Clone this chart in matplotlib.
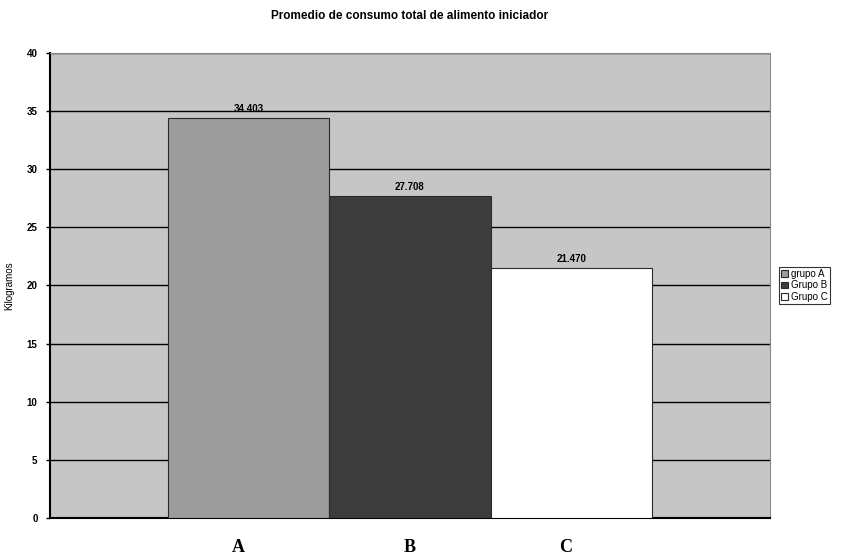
import numpy as np
import matplotlib
matplotlib.use("Agg")
import matplotlib.pyplot as plt

# data
groups = ["grupo A", "Grupo B", "Grupo C"]
letters = ["A", "B", "C"]
values = [34.403, 27.708, 21.470]
labels = ["34.403", "27.708", "21.470"]
colors = ["#9c9c9c", "#3c3c3c", "#ffffff"]
yticks = [0, 5, 10, 15, 20, 25, 30, 35, 40]

plt.rcParams['font.family'] = ['Liberation Sans', 'DejaVu Sans']

fig = plt.figure(figsize=(8.41, 5.59), dpi=100)
ax = fig.add_axes([0.0595, 0.0733, 0.856, 0.832])
ax.set_facecolor("#c6c6c6")

w = 0.224
offsets = [-w, 0, w]
for off, v, c, g in zip(offsets, values, colors, groups):
    ax.bar(off, v, width=w, color=c, edgecolor="#2a2a2a", linewidth=0.8,
           label=g, zorder=3)

for off, v, lab in zip(offsets, values, labels):
    ax.text(off, v + 0.35, lab, ha="center", va="bottom", fontsize=7,
            fontweight="bold", zorder=4)

ax.set_xlim(-0.5, 0.5)
ax.set_ylim(0, 40)
ax.set_yticks(yticks)
ax.set_yticklabels([str(t) for t in yticks], fontsize=7, fontweight="bold")
ax.set_xticks([])
ax.yaxis.grid(True, color="black", linewidth=1.0, zorder=1)
ax.set_axisbelow(True)
ax.tick_params(axis="y", length=3, width=1, pad=6)
for s in ["left", "bottom"]:
    ax.spines[s].set_linewidth(1.5)
for s in ["top", "right"]:
    ax.spines[s].set_color("#8a8a8a")
    ax.spines[s].set_linewidth(0.8)

ax.set_ylabel("Kilogramos", fontsize=7, labelpad=9)

fig.text(0.4875, 0.972, "Promedio de consumo total de alimento iniciador",
         ha="center", va="center", fontsize=8.5, fontweight="bold")

leg = ax.legend(loc="center left", bbox_to_anchor=(1.012, 0.5), fontsize=7,
                frameon=True, fancybox=False, edgecolor="black",
                handlelength=0.7, handleheight=0.7, handletextpad=0.3,
                borderpad=0.25, labelspacing=0.15, borderaxespad=0.0)
leg.get_frame().set_linewidth(0.8)

xpos = [0.283, 0.487, 0.672]
for x, l in zip(xpos, letters):
    fig.text(x, 0.02, l, ha="center", va="center", fontsize=13,
             fontweight="bold", family=["Liberation Serif", "DejaVu Serif"])

fig.savefig("out.png", dpi=100)
